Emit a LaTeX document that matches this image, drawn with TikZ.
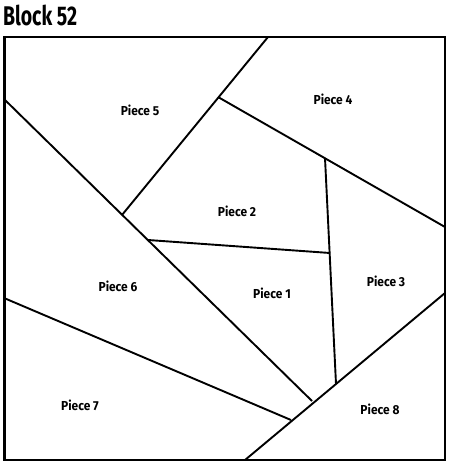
\documentclass[tikz,border=0pt]{standalone}
\usepackage{fontspec}
\setmainfont{Fira Sans}
\newfontfamily\titlefont[FakeStretch=0.72]{Fira Sans}
\newfontfamily\piecefont[FakeStretch=0.92]{Fira Sans}
\tikzset{
  seam/.style={line width=1.9pt},
  piece/.style={font=\piecefont\bfseries\fontsize{13}{15}\selectfont, inner sep=0pt}
}

\begin{document}
\begin{tikzpicture}[x=1pt,y=-1pt]
  \useasboundingbox (0,0) rectangle (450,465);

  % Title
  \node[anchor=base west, inner sep=0pt, font=\titlefont\bfseries\fontsize{27}{30}\selectfont] (title) at (3,26) {Block 52};

  % Seam points
  \coordinate (tl) at (4.5,37);
  \coordinate (br) at (445,460);
  \coordinate (diagL) at (4,99);
  \coordinate (diagR) at (312,401);
  \coordinate (cutR) at (445,293);
  \coordinate (cutB) at (245,460);
  \coordinate (fiveT) at (268,37);
  \coordinate (fiveB) at (122,215);
  \coordinate (fourL) at (218,97);
  \coordinate (fourR) at (445,227);
  \coordinate (vertT) at (325,158);
  \coordinate (vertB) at (336,384);
  \coordinate (twoL) at (148,240);
  \coordinate (twoR) at (330,253);
  \coordinate (sevenL) at (4,298);
  \coordinate (sevenR) at (291,420);

  % Block outline
  \draw[line width=2.4pt] (tl) rectangle (br);

  % Seams
  \draw[seam] (diagL) -- (diagR);
  \draw[seam] (cutR) -- (cutB);
  \draw[seam] (fiveT) -- (fiveB);
  \draw[seam] (fourL) -- (fourR);
  \draw[seam] (vertT) -- (vertB);
  \draw[seam] (twoL) -- (twoR);
  \draw[seam] (sevenL) -- (sevenR);

  % Piece labels
  \node[piece] (p5) at (140,110) {Piece 5};
  \node[piece] (p4) at (333,99) {Piece 4};
  \node[piece] (p2) at (237,211) {Piece 2};
  \node[piece] (p3) at (386,281) {Piece 3};
  \node[piece] (p6) at (118,286) {Piece 6};
  \node[piece] (p1) at (272,293) {Piece 1};
  \node[piece] (p7) at (80,405) {Piece 7};
  \node[piece] (p8) at (380,409) {Piece 8};
\end{tikzpicture}
\end{document}
